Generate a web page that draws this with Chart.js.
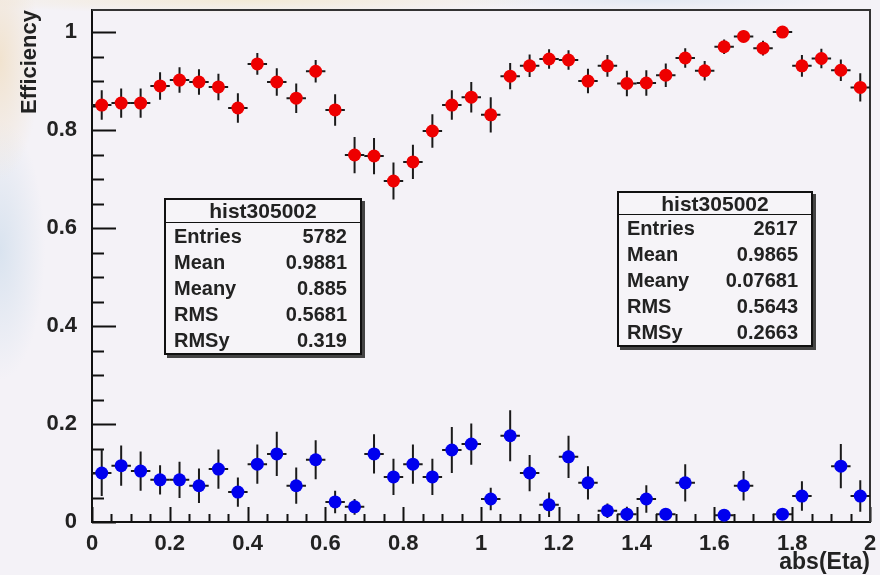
<!DOCTYPE html>
<html>
<head>
<meta charset="utf-8">
<script src="https://cdn.jsdelivr.net/npm/chart.js@4.4.1/dist/chart.umd.min.js"></script>
<style>
  html, body { margin: 0; padding: 0; }
  body {
    width: 880px; height: 575px; overflow: hidden; position: relative;
    background:
      radial-gradient(ellipse 40px 120px at 0px 60px, #f1e3cf, rgba(241,227,207,0)),
      radial-gradient(ellipse 45px 130px at 0px 250px, #d9e3ef, rgba(217,227,239,0)),
      radial-gradient(ellipse 300px 14px at 250px 0px, #f3ead6, rgba(243,234,214,0)),
      radial-gradient(ellipse 200px 12px at 650px 0px, #e3e9f2, rgba(227,233,242,0)),
      #f4f2f7;
    font-family: "Liberation Sans", Arial, sans-serif;
  }
  #wrap { position: absolute; left: 0; top: 0; width: 880px; height: 575px; }
  .stats {
    position: absolute; box-sizing: border-box;
    border: 2px solid #111; background: #f6f4f8;
    box-shadow: 3px 3px 0 #444;
    font-weight: bold; font-size: 20px; color: #222;
  }
  .stats .title { text-align: center; border-bottom: 1.5px solid #111; font-size: 21px; }
  .stats .row { display: flex; justify-content: space-between; height: 26px; line-height: 26px; padding: 0 13px 0 8px; }
</style>
</head>
<body>
<div id="wrap"><canvas id="effChart" width="880" height="575"></canvas></div>
<script>
// bin centres of abs(Eta), 40 bins from 0 to 2
const etaBins = [0.025, 0.075, 0.125, 0.175, 0.225, 0.275, 0.325, 0.375, 0.425, 0.475,
                 0.525, 0.575, 0.625, 0.675, 0.725, 0.775, 0.825, 0.875, 0.925, 0.975,
                 1.025, 1.075, 1.125, 1.175, 1.225, 1.275, 1.325, 1.375, 1.425, 1.475,
                 1.525, 1.575, 1.625, 1.675, 1.725, 1.775, 1.825, 1.875, 1.925, 1.975];

// red points (efficiency) and their errors
const redEff = [0.851, 0.855, 0.855, 0.890, 0.902, 0.898, 0.888, 0.845, 0.935, 0.898,
                0.865, 0.920, 0.841, 0.749, 0.747, 0.696, 0.735, 0.798, 0.851, 0.867,
                0.831, 0.910, 0.931, 0.945, 0.943, 0.900, 0.931, 0.895, 0.896, 0.912,
                0.947, 0.921, 0.970, 0.991, 0.967, 1.000, 0.931, 0.946, 0.922, 0.887];
const redErr = [0.030, 0.030, 0.030, 0.028, 0.026, 0.026, 0.027, 0.030, 0.022, 0.028,
                0.030, 0.023, 0.032, 0.037, 0.037, 0.038, 0.035, 0.034, 0.030, 0.031,
                0.036, 0.027, 0.023, 0.020, 0.020, 0.025, 0.022, 0.026, 0.026, 0.024,
                0.020, 0.020, 0.015, 0.012, 0.015, 0.008, 0.022, 0.020, 0.022, 0.029];

// blue points (empty bins are null)
const blueEff = [0.100, 0.115, 0.104, 0.086, 0.086, 0.074, 0.108, 0.061, 0.118, 0.139,
                 0.074, 0.127, 0.041, 0.031, 0.139, 0.092, 0.118, 0.092, 0.147, 0.159,
                 0.047, 0.176, 0.100, 0.035, 0.133, 0.080, 0.023, 0.016, 0.047, 0.016,
                 0.080, null, 0.014, 0.074, null, 0.016, 0.053, null, 0.114, 0.053];
const blueErr = [0.047, 0.041, 0.040, 0.030, 0.037, 0.035, 0.040, 0.030, 0.040, 0.045,
                 0.037, 0.040, 0.023, 0.016, 0.040, 0.037, 0.040, 0.037, 0.047, 0.042,
                 0.023, 0.052, 0.037, 0.025, 0.043, 0.034, 0.015, 0.015, 0.028, 0.012,
                 0.038, 0, 0.012, 0.030, 0, 0.012, 0.030, 0, 0.045, 0.032];

// statistics boxes
const statNames = ["Entries", "Mean", "Meany", "RMS", "RMSy"];
const redStats = ["5782", "0.9881", "0.885", "0.5681", "0.319"];
const blueStats = ["2617", "0.9865", "0.07681", "0.5643", "0.2663"];
const histName = "hist305002";

const binHalf = 0.025;

function toPoints(vals, errs) {
    return etaBins.map((x, i) => ({ x: x, y: vals[i], err: errs[i] }));
}

// error bars (vertical stat error + horizontal bin width)
const errorBars = {
    id: "errorBars",
    beforeDatasetsDraw(chart) {
        const { ctx, chartArea, scales: { x, y } } = chart;
        ctx.save();
        ctx.beginPath();
        ctx.rect(chartArea.left, chartArea.top, chartArea.right - chartArea.left, chartArea.bottom - chartArea.top);
        ctx.clip();
        ctx.strokeStyle = "#1a1a1a";
        ctx.lineWidth = 2;
        chart.data.datasets.forEach(ds => {
            ds.data.forEach(p => {
                if (p.y == null) return;
                const px = x.getPixelForValue(p.x), py = y.getPixelForValue(p.y);
                ctx.beginPath();
                ctx.moveTo(px, y.getPixelForValue(p.y + p.err));
                ctx.lineTo(px, y.getPixelForValue(p.y - p.err));
                ctx.moveTo(x.getPixelForValue(p.x - binHalf), py);
                ctx.lineTo(x.getPixelForValue(p.x + binHalf), py);
                ctx.stroke();
            });
        });
        ctx.restore();
    }
};

// ROOT-like frame: inner ticks + top/right border
const rootFrame = {
    id: "rootFrame",
    beforeDatasetsDraw(chart) {
        const { ctx, chartArea: a, scales: { x, y } } = chart;
        ctx.save();
        ctx.strokeStyle = "#111";
        ctx.lineWidth = 2;
        ctx.beginPath();
        for (let k = 0; k <= 20; k++) {
            const v = k * 0.05;
            const py = Math.round(y.getPixelForValue(v)) + 0.5;
            const len = (k % 4 === 0) ? 24 : 12;
            ctx.moveTo(a.left, py);
            ctx.lineTo(a.left + len, py);
        }
        for (let k = 0; k <= 40; k++) {
            const v = k * 0.05;
            const px = Math.round(x.getPixelForValue(v)) + 0.5;
            const len = (k % 4 === 0) ? 15 : 8;
            ctx.moveTo(px, a.bottom);
            ctx.lineTo(px, a.bottom - len);
        }
        ctx.stroke();
        ctx.strokeStyle = "#333";
        ctx.lineWidth = 2;
        ctx.beginPath();
        ctx.moveTo(a.left, a.top);
        ctx.lineTo(a.right, a.top);
        ctx.lineTo(a.right, a.bottom);
        ctx.stroke();
        ctx.restore();
    }
};

Chart.defaults.font.family = "'Liberation Sans', Arial, sans-serif";
Chart.defaults.font.weight = "bold";
Chart.defaults.color = "#222";

const fmt = v => String(+Number(v).toFixed(2));

new Chart(document.getElementById("effChart").getContext("2d"), {
    type: "scatter",
    data: {
        datasets: [
            { data: toPoints(redEff, redErr), backgroundColor: "#ee0000", borderWidth: 0, pointRadius: 6.5, pointHoverRadius: 6.5 },
            { data: toPoints(blueEff, blueErr), backgroundColor: "#0000ee", borderWidth: 0, pointRadius: 6.5, pointHoverRadius: 6.5 }
        ]
    },
    options: {
        responsive: false,
        animation: false,
        events: [],
        layout: { padding: { top: 10, right: 10, left: 0, bottom: 0 } },
        plugins: { legend: { display: false }, tooltip: { enabled: false } },
        scales: {
            x: {
                type: "linear", min: 0, max: 2,
                grid: { display: false },
                border: { display: true, color: "#111", width: 2 },
                ticks: { stepSize: 0.2, includeBounds: false, padding: 1, font: { size: 22, weight: "bold" }, callback: fmt, maxRotation: 0, autoSkip: false },
                title: { display: true, text: "abs(Eta)", align: "end", font: { size: 23, weight: "bold" }, padding: { top: 0, bottom: -1 } },
                afterFit: s => { s.height = 53; s.paddingLeft = 0; s.paddingRight = 0; }
            },
            y: {
                type: "linear", min: 0, max: 1.045,
                grid: { display: false },
                border: { display: true, color: "#111", width: 2 },
                ticks: { stepSize: 0.2, includeBounds: false, padding: 7, font: { size: 22, weight: "bold" }, callback: fmt },
                title: { display: true, text: "Efficiency", align: "end", font: { size: 22, weight: "bold" }, padding: { top: 17, bottom: 0 } },
                afterFit: s => { s.width = 92; s.paddingTop = 0; s.paddingBottom = 0; }
            }
        }
    },
    plugins: [rootFrame, errorBars]
});

// stats boxes as real text
function statBox(left, top, width, titleH, values) {
    const box = document.createElement("div");
    box.className = "stats";
    box.style.left = left + "px";
    box.style.top = top + "px";
    box.style.width = width + "px";
    let html = '<div class="title" style="height:' + titleH + 'px;line-height:' + titleH + 'px">' + histName + '</div>';
    statNames.forEach((n, i) => {
        html += '<div class="row"><span>' + n + '</span><span>' + values[i] + '</span></div>';
    });
    box.innerHTML = html;
    document.getElementById("wrap").appendChild(box);
}
statBox(164, 198, 198, 22, redStats);
statBox(617, 191, 196, 21, blueStats);
</script>
</body>
</html>
